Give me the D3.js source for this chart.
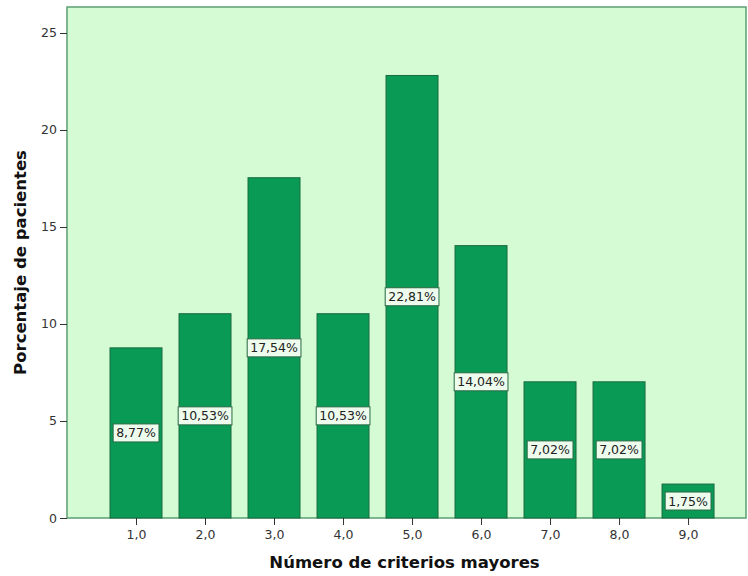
<!DOCTYPE html>
<html>
<head>
<meta charset="utf-8">
<script src="https://cdn.jsdelivr.net/npm/d3@7"></script>
<style>
  body { margin: 0; background: #fff; }
  text { font-family: "DejaVu Sans", sans-serif; }
</style>
</head>
<body>
<div id="chart"></div>
<script>
const criterios = [1, 2, 3, 4, 5, 6, 7, 8, 9];
const porcentajes = [8.77, 10.53, 17.54, 10.53, 22.81, 14.04, 7.02, 7.02, 1.75];
const yTicks = [0, 5, 10, 15, 20, 25];

const width = 748, height = 576;
const margin = {top: 7, right: 2, bottom: 58, left: 67};

const svg = d3.select("#chart").append("svg")
    .attr("width", width)
    .attr("height", height);

const x = d3.scaleLinear()
    .domain([0, 9.84])
    .range([margin.left, width - margin.right]);

const y = d3.scaleLinear()
    .domain([0, 26.34])
    .range([height - margin.bottom, margin.top]);

const fmt = v => d3.format(".2f")(v).replace(".", ",") + "%";
const barW = 52;

// fondo
svg.append("rect")
    .attr("x", margin.left)
    .attr("y", margin.top)
    .attr("width", width - margin.right - margin.left)
    .attr("height", height - margin.bottom - margin.top)
    .attr("fill", "#d4fbd4")
    .attr("stroke", "#5c9f74")
    .attr("stroke-width", 1.5);

// barras
svg.selectAll(".barra")
    .data(criterios)
    .join("rect")
    .attr("class", "barra")
    .attr("x", (d) => x(d) - barW / 2)
    .attr("y", (d, i) => y(porcentajes[i]))
    .attr("width", barW)
    .attr("height", (d, i) => y(0) - y(porcentajes[i]))
    .attr("fill", "#099a56")
    .attr("stroke", "#1b6b40")
    .attr("stroke-width", 1);

// etiquetas
let etiquetas = svg.selectAll(".etiqueta")
    .data(criterios)
    .join("g")
    .attr("class", "etiqueta")
    .attr("transform", (d, i) => `translate(${x(d)},${(y(0) + y(porcentajes[i])) / 2})`);

etiquetas.append("text")
    .attr("text-anchor", "middle")
    .attr("dy", "0.36em")
    .attr("font-size", 12.5)
    .attr("fill", "#222")
    .text((d, i) => fmt(porcentajes[i]));

etiquetas.each(function() {
    let g = d3.select(this);
    let bb = g.select("text").node().getBBox();
    g.insert("rect", "text")
        .attr("x", bb.x - 3)
        .attr("y", bb.y - 1.5)
        .attr("width", bb.width + 6)
        .attr("height", bb.height + 3)
        .attr("fill", "#eefcee")
        .attr("stroke", "#2b6b45")
        .attr("stroke-width", 1);
});

// ejes
let ejeY = svg.append("g")
    .attr("transform", `translate(${margin.left},0)`)
    .call(d3.axisLeft(y).tickValues(yTicks).tickSize(7).tickPadding(3));
ejeY.select(".domain").remove();
ejeY.selectAll("text").attr("font-size", 12.5).attr("fill", "#333");
ejeY.selectAll("line").attr("stroke", "#333");

let ejeX = svg.append("g")
    .attr("transform", `translate(0,${height - margin.bottom})`)
    .call(d3.axisBottom(x).tickValues(criterios).tickSize(7).tickPadding(5)
        .tickFormat(d => d3.format(".1f")(d).replace(".", ",")));
ejeX.select(".domain").remove();
ejeX.selectAll("text").attr("font-size", 12.5).attr("fill", "#333");
ejeX.selectAll("line").attr("stroke", "#333");

// títulos
svg.append("text")
    .attr("x", (margin.left + width - margin.right) / 2 - 2)
    .attr("y", 568)
    .attr("text-anchor", "middle")
    .attr("font-size", 16.5)
    .attr("font-weight", "bold")
    .attr("fill", "#111")
    .text("Número de criterios mayores");

svg.append("text")
    .attr("transform", `translate(26,${(margin.top + height - margin.bottom) / 2}) rotate(-90)`)
    .attr("text-anchor", "middle")
    .attr("font-size", 16.5)
    .attr("font-weight", "bold")
    .attr("fill", "#111")
    .text("Porcentaje de pacientes");
</script>
</body>
</html>
